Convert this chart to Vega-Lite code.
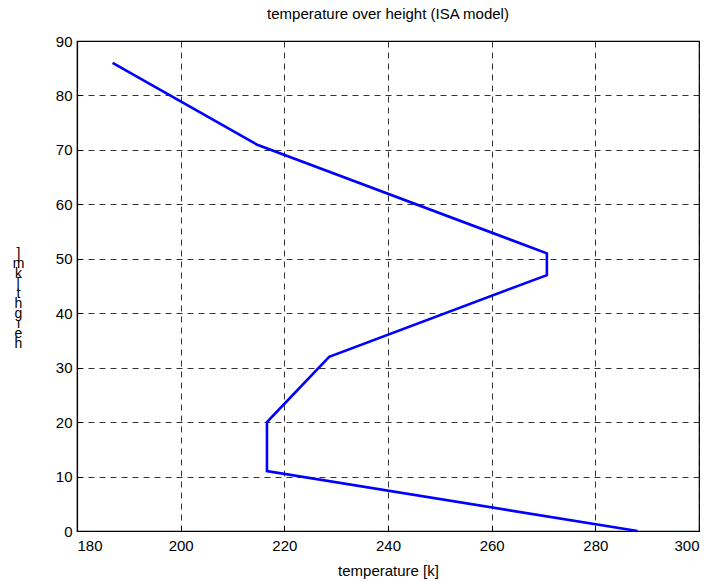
{
  "$schema": "https://vega.github.io/schema/vega-lite/v6.json",
  "width": 622,
  "height": 490,
  "autosize": {"type": "none"},
  "padding": {"left": 77, "top": 41, "right": 16, "bottom": 50},
  "background": "white",
  "title": {
    "text": "temperature over height (ISA model)",
    "font": "Liberation Sans",
    "fontSize": 15,
    "fontWeight": "normal",
    "color": "black",
    "offset": 12,
    "anchor": "middle"
  },
  "config": {
    "view": {"stroke": "black", "strokeWidth": 1.2},
    "axis": {
      "labelFont": "Liberation Sans",
      "titleFont": "Liberation Sans",
      "labelFontSize": 15,
      "titleFontSize": 15,
      "labelColor": "black",
      "titleColor": "black",
      "titleFontWeight": "normal",
      "domainColor": "black",
      "domainWidth": 1.2,
      "tickColor": "black",
      "tickSize": -5,
      "grid": true,
      "gridColor": "black",
      "gridDash": [6, 5],
      "gridOpacity": 0.8,
      "gridWidth": 1
    }
  },
  "data": {
    "values": [
      {"temperature": 288.15, "height": 0},
      {"temperature": 216.65, "height": 11},
      {"temperature": 216.65, "height": 20},
      {"temperature": 228.65, "height": 32},
      {"temperature": 270.65, "height": 47},
      {"temperature": 270.65, "height": 51},
      {"temperature": 214.65, "height": 71},
      {"temperature": 186.87, "height": 86}
    ]
  },
  "mark": {"type": "line", "color": "#0000ff", "strokeWidth": 2.6},
  "encoding": {
    "x": {
      "field": "temperature",
      "type": "quantitative",
      "scale": {"domain": [180, 300], "nice": false, "zero": false},
      "axis": {
        "values": [180, 200, 220, 240, 260, 280, 300],
        "title": "temperature [k]",
        "labelPadding": 12,
        "titlePadding": 10
      }
    },
    "y": {
      "field": "height",
      "type": "quantitative",
      "sort": null,
      "scale": {"domain": [0, 90], "nice": false},
      "axis": {
        "values": [0, 10, 20, 30, 40, 50, 60, 70, 80, 90],
        "title": ["]", " ", "m", "k", "[", "t", "h", "g", "i", "e", "h"],
        "titleAngle": 0,
        "titleAlign": "center",
        "titleBaseline": "top",
        "titleLineHeight": 10,
        "titleFontSize": 14,
        "titleX": -59,
        "titleY": 205,
        "labelPadding": 10
      }
    },
    "order": {"field": "height", "type": "quantitative"}
  }
}
